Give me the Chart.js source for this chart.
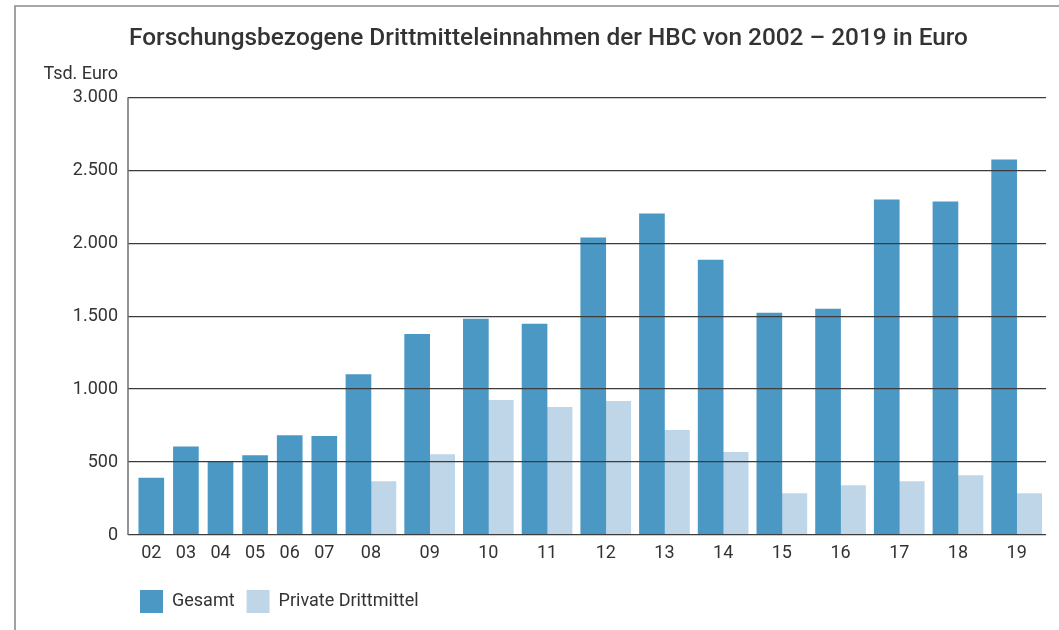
<!DOCTYPE html>
<html lang="de">
<head>
<meta charset="utf-8">
<title>Drittmitteleinnahmen HBC</title>
<script src="https://cdn.jsdelivr.net/npm/chart.js@4.4.1/dist/chart.umd.min.js"></script>
<style>
  html, body { margin: 0; padding: 0; background: #fff; }
  canvas { display: block; }
</style>
</head>
<body>
<canvas id="myChart" width="1059" height="630"></canvas>
<script>
'use strict';

// Jahre (Kurzform) und Werte in Tsd. Euro
const years = ['02', '03', '04', '05', '06', '07', '08', '09', '10', '11', '12', '13', '14', '15', '16', '17', '18', '19'];
const gesamt = [390, 605, 500, 545, 682, 676, 1100, 1376, 1479, 1445, 2036, 2201, 1885, 1521, 1548, 2297, 2283, 2572];
const privat = [null, null, null, null, null, null, 366, 552, 923, 875, 916, 717, 566, 284, 339, 366, 408, 284];
const yTicks = [0, 500, 1000, 1500, 2000, 2500, 3000];

// ab 2008 gibt es zwei Balken je Jahr -> eigene, breitere Achse
const splitAt = privat.findIndex(v => v !== null);

const dark = '#4a98c3';
const light = '#bed6e8';
const textColor = '#333333';
const fontFamily = 'Roboto, "Open Sans", sans-serif';

function formatDE(v){
  return String(v).replace(/\B(?=(\d{3})+(?!\d))/g, '.');
}

// Rahmen oben/links, y-Achsenlinie und "Tsd. Euro"
const decorations = {
  id: 'decorations',
  beforeDraw(chart){
    const ctx = chart.ctx;
    ctx.save();
    ctx.strokeStyle = '#8a8a8a';
    ctx.lineWidth = 1.6;
    ctx.beginPath();
    ctx.moveTo(chart.width, 6);
    ctx.lineTo(15, 6);
    ctx.lineTo(15, chart.height);
    ctx.stroke();
    ctx.restore();
  },
  afterDraw(chart){
    const ctx = chart.ctx;
    const area = chart.chartArea;
    ctx.save();
    ctx.strokeStyle = '#6f6f6f';
    ctx.lineWidth = 1.5;
    ctx.beginPath();
    ctx.moveTo(area.left, area.top);
    ctx.lineTo(area.left, area.bottom);
    ctx.stroke();

    ctx.font = '18px ' + fontFamily;
    ctx.fillStyle = textColor;
    ctx.textAlign = 'right';
    ctx.textBaseline = 'middle';
    ctx.fillText('Tsd. Euro', area.left - 10, 74);
    ctx.restore();
  }
};

const xTickStyle = {
  font: { family: fontFamily, size: 18 },
  color: textColor,
  padding: 8,
  maxRotation: 0,
  minRotation: 0,
  autoSkip: false
};

function fixHeight(scale){ scale.height = 43; }

const ctx = document.getElementById('myChart');

new Chart(ctx, {
  type: 'bar',
  data: {
    labels: years,
    datasets: [{
      label: 'Gesamt',
      data: gesamt.slice(0, splitAt),
      xAxisID: 'x1',
      backgroundColor: dark,
      borderWidth: 0,
      barThickness: 25,
      grouped: false
    },
    {
      label: 'Gesamt',
      data: gesamt.slice(splitAt),
      xAxisID: 'x2',
      backgroundColor: dark,
      borderWidth: 0,
      barThickness: 25
    },
    {
      label: 'Private Drittmittel',
      data: privat.slice(splitAt),
      xAxisID: 'x2',
      backgroundColor: light,
      borderWidth: 0,
      barThickness: 25
    }]
  },
  plugins: [decorations],
  options: {
    responsive: false,
    animation: false,
    layout: {
      padding: { left: 51, right: 13, top: 0, bottom: 7 }
    },
    plugins: {
      tooltip: { enabled: false },
      title: {
        display: true,
        text: 'Forschungsbezogene Drittmitteleinnahmen der HBC von 2002 – 2019 in Euro',
        color: textColor,
        font: { family: fontFamily, size: 24.4, weight: '500' },
        padding: { top: 24, bottom: 44 }
      },
      legend: {
        position: 'bottom',
        align: 'start',
        fullSize: false,
        labels: {
          boxWidth: 23,
          boxHeight: 23,
          padding: 12,
          color: textColor,
          font: { family: fontFamily, size: 18 },
          filter: (item) => item.datasetIndex !== 1
        }
      }
    },
    scales: {
      xpad: {
        type: 'category',
        position: 'bottom',
        labels: [''],
        stack: 'x',
        stackWeight: 6,
        grid: { display: false, drawTicks: false },
        border: { display: false },
        ticks: { display: false },
        afterFit: fixHeight
      },
      x1: {
        type: 'category',
        position: 'bottom',
        labels: years.slice(0, splitAt),
        stack: 'x',
        stackWeight: 207.6,
        grid: { display: false, drawTicks: false },
        border: { display: false },
        ticks: xTickStyle,
        afterFit: fixHeight
      },
      x2: {
        type: 'category',
        position: 'bottom',
        labels: years.slice(splitAt),
        stack: 'x',
        stackWeight: 704.4,
        grid: { display: false, drawTicks: false },
        border: { display: false },
        ticks: xTickStyle,
        afterFit: fixHeight
      },
      y: {
        min: 0,
        max: 3000,
        afterFit(scale){ scale.width = 77; },
        afterBuildTicks(scale){
          scale.ticks = yTicks.map(v => ({ value: v }));
        },
        border: { display: false },
        grid: {
          z: 1,
          color: '#3c3c3c',
          lineWidth: 1.2,
          drawTicks: false
        },
        ticks: {
          padding: 10,
          color: textColor,
          font: { family: fontFamily, size: 18 },
          callback: (v) => formatDE(v)
        }
      }
    }
  }
});
</script>
</body>
</html>
